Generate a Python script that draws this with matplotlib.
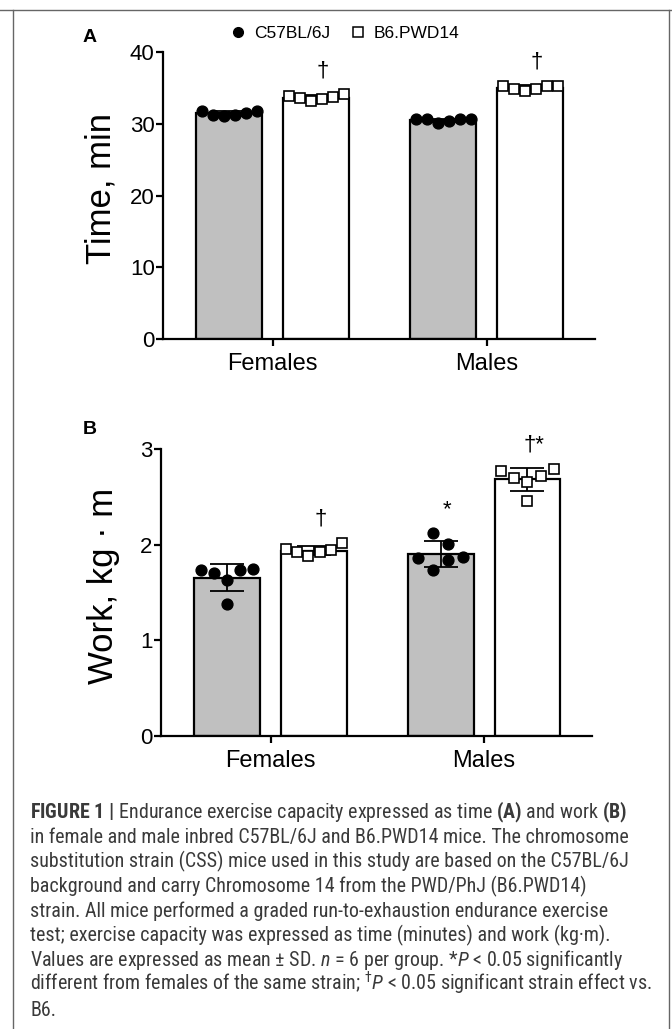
import numpy as np
import matplotlib
matplotlib.use("Agg")
import matplotlib.pyplot as plt
from matplotlib.lines import Line2D
from matplotlib import font_manager as fm

# -------------------------
# Data
# -------------------------

sexes = ["Females", "Males"]
strains = ["C57BL/6J", "B6.PWD14"]

# Time to exhaustion, min (n = 6 per group)
time_c57_f = [31.8, 31.2, 31.1, 31.2, 31.5, 31.8]
time_pwd_f = [33.9, 33.6, 33.2, 33.4, 33.7, 34.1]
time_c57_m = [30.6, 30.6, 30.1, 30.4, 30.6, 30.6]
time_pwd_m = [35.3, 34.9, 34.5, 34.8, 35.3, 35.3]

# Work, kg·m
work_c57_f = [1.74, 1.70, 1.63, 1.38, 1.74, 1.75]
work_pwd_f = [1.95, 1.92, 1.88, 1.92, 1.94, 2.02]
work_c57_m = [1.86, 2.12, 1.74, 2.01, 1.84, 1.87]
work_pwd_m = [2.77, 2.70, 2.65, 2.46, 2.72, 2.79]

time_marks = ["", "\u2020", "", "\u2020"]
work_marks = ["", "\u2020", "*", "\u2020*"]

caption_lines = [
    r"$\mathbf{FIGURE\ 1\ |}$ Endurance exercise capacity expressed as time $\mathbf{(A)}$ and work $\mathbf{(B)}$",
    "in female and male inbred C57BL/6J and B6.PWD14 mice. The chromosome",
    "substitution strain (CSS) mice used in this study are based on the C57BL/6J",
    "background and carry Chromosome 14 from the PWD/PhJ (B6.PWD14)",
    "strain. All mice performed a graded run-to-exhaustion endurance exercise",
    "test; exercise capacity was expressed as time (minutes) and work (kg\u00b7m).",
    r"Values are expressed as mean $\pm$ SD. $\mathit{n}$ = 6 per group. *$\mathit{P}$ < 0.05 significantly",
    r"different from females of the same strain; ${}^{\dagger}\mathit{P}$ < 0.05 significant strain effect vs.",
    "B6.",
]

# -------------------------
# Style
# -------------------------

W, H = 672, 1029
GRAY = "#c0c0c0"
BAR_W = 0.308
BAR_OFF = 0.203

names = {f.name for f in fm.fontManager.ttflist}
cap_font = "Liberation Sans"
for cand in ["Liberation Sans Narrow", "Arial Narrow", "Roboto Condensed",
             "Open Sans Condensed", "Roboto"]:
    if cand in names:
        cap_font = cand
        break

plt.rcParams["font.family"] = ["Liberation Sans", "DejaVu Sans"]
plt.rcParams["mathtext.fontset"] = "custom"
plt.rcParams["mathtext.rm"] = cap_font
plt.rcParams["mathtext.it"] = cap_font + ":italic"
plt.rcParams["mathtext.bf"] = cap_font + ":bold"

even6 = [-2.5, -1.5, -0.5, 0.5, 1.5, 2.5]
five = [-2, -1, 0, 0, 1, 2]
four = [-1.5, -0.5, -0.5, 0.5, 0.5, 1.5]

fig = plt.figure(figsize=(W / 100, H / 100), dpi=100)


def px_axes(left, top, right, bottom):
    return fig.add_axes([left / W, 1 - bottom / H,
                         (right - left) / W, (bottom - top) / H])


def draw_panel(ax, groups, offsets, steps, marks, ylim, yticks, ylabel, lab_x):
    k = 0
    for i, sex in enumerate(sexes):
        for j, strain in enumerate(strains):
            vals = np.array(groups[k])
            x = i + (2 * j - 1) * BAR_OFF
            m = vals.mean()
            sd = vals.std(ddof=1)
            face = GRAY if j == 0 else "white"
            ax.bar(x, m, width=BAR_W, color=face, edgecolor="black",
                   linewidth=1.6, zorder=2)
            ax.errorbar(x, m, yerr=sd, fmt="none", ecolor="black",
                        elinewidth=1.3, capsize=12.5, capthick=1.3, zorder=3)
            xs = x + np.array(offsets[k]) * steps[k]
            if j == 0:
                ax.plot(xs, vals, "o", color="black", ms=7.8, zorder=4,
                        clip_on=False)
            else:
                ax.plot(xs, vals, "s", mfc="white", mec="black", ms=7.2,
                        mew=1.2, zorder=4, clip_on=False)
            if marks[k]:
                ax.annotate(marks[k], xy=(x + 0.03, vals.max()),
                            xytext=(0, 17), textcoords="offset points",
                            ha="center", va="center", fontsize=16)
            k += 1

    ax.set_xlim(-0.513, 1.505)
    ax.set_ylim(*ylim)
    ax.set_yticks(yticks)
    ax.set_xticks([0, 1])
    ax.set_xticklabels(sexes)
    for s in ["top", "right"]:
        ax.spines[s].set_visible(False)
    for s in ["left", "bottom"]:
        ax.spines[s].set_linewidth(1.6)
    ax.tick_params(axis="y", width=1.6, length=5, labelsize=16, pad=1)
    ax.tick_params(axis="x", width=1.6, length=5, labelsize=17, pad=5)
    ax.set_ylabel(ylabel, fontsize=25)
    ax.yaxis.set_label_coords(lab_x, 0.524)


# -------------------------
# Panel A: time
# -------------------------

axA = px_axes(163, 52, 595, 339)
draw_panel(axA,
           [time_c57_f, time_pwd_f, time_c57_m, time_pwd_m],
           [even6, even6, even6, even6],
           [0.0514] * 4,
           time_marks, (0, 40), [0, 10, 20, 30, 40],
           "Time, min", -0.106)

# -------------------------
# Panel B: work
# -------------------------

axB = px_axes(161, 449, 592, 736)
draw_panel(axB,
           [work_c57_f, work_pwd_f, work_c57_m, work_pwd_m],
           [five, even6, four, five],
           [0.061, 0.053, 0.07, 0.061],
           work_marks, (0, 3), [0, 1, 2, 3],
           "Work, kg \u00b7 m", -0.095)

fig.text(90 / W, 1 - 37 / H, "A", fontsize=14, fontweight="bold",
         ha="center", va="center")
fig.text(90 / W, 1 - 429 / H, "B", fontsize=14, fontweight="bold",
         ha="center", va="center")

# legend
handles = [
    Line2D([], [], ls="none", marker="o", color="black", ms=7),
    Line2D([], [], ls="none", marker="s", mfc="white", mec="black",
           ms=7, mew=1.1),
]
fig.legend(handles, strains, loc="center", ncol=2, frameon=False,
           bbox_to_anchor=(345 / W, 1 - 33 / H), fontsize=12.5,
           handlelength=0.8, handletextpad=0.5, columnspacing=1.2)

# frame around the figure
fig.add_artist(Line2D([0, 1], [1 - 10 / H] * 2, transform=fig.transFigure,
                      color="#666666", lw=1))
fig.add_artist(Line2D([13 / W] * 2, [0, 1 - 10 / H], transform=fig.transFigure,
                      color="#666666", lw=1))
fig.add_artist(Line2D([669 / W] * 2, [0, 1 - 10 / H], transform=fig.transFigure,
                      color="#666666", lw=1))

# -------------------------
# Caption
# -------------------------

cap = []
for k, line in enumerate(caption_lines):
    y = 818 + 24.7 * k
    cap.append(fig.text(30 / W, 1 - y / H, line, fontsize=12,
                        family=cap_font, color="#3a3a3a",
                        ha="left", va="baseline"))

# fit the widest caption line into the frame
fig.canvas.draw()
r = fig.canvas.get_renderer()
widest = max(t.get_window_extent(r).width for t in cap)
for t in cap:
    t.set_fontsize(12 * 622 / widest)

fig.savefig("out.png", dpi=100)
plt.close(fig)
